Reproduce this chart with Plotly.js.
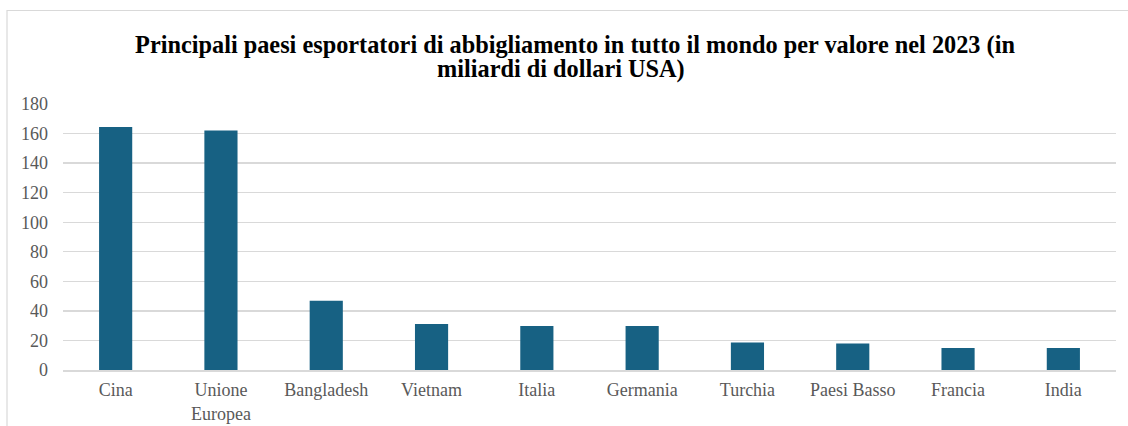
<!DOCTYPE html>
<html>
<head>
<meta charset="utf-8">
<script src="https://cdn.plot.ly/plotly-3.0.1.min.js"></script>
<style>
html,body{margin:0;padding:0;background:#fff;}
#chart{width:1128px;height:426px;}
</style>
</head>
<body>
<div id="chart"></div>
<script>
const categories = ["Cina", "Unione<br>Europea", "Bangladesh", "Vietnam", "Italia", "Germania", "Turchia", "Paesi Basso", "Francia", "India"];
const values = [164.5, 162, 46.8, 31.1, 29.8, 29.7, 18.6, 18.0, 14.9, 14.9];
const yTicks = [0, 20, 40, 60, 80, 100, 120, 140, 160, 180];
const titleLine1 = "Principali paesi esportatori di abbigliamento in tutto il mondo per valore nel 2023 (in";
const titleLine2 = "miliardi di dollari USA)";

const trace = {
  type: "bar",
  x: categories,
  y: values,
  marker: {color: "#176183", line: {width: 0}},
  hoverinfo: "x+y"
};

const titleFont = {family: "Liberation Serif, Times New Roman, serif", size: 24.3, color: "#000"};

const layout = {
  width: 1128,
  height: 426,
  margin: {l: 63, r: 12, t: 104, b: 56},
  paper_bgcolor: "#fff",
  plot_bgcolor: "#fff",
  bargap: 0.685,
  showlegend: false,
  font: {family: "Liberation Serif, Times New Roman, serif", color: "#595959", size: 18},
  title: {
    text: "<b>" + titleLine1 + "</b>",
    font: titleFont,
    x: (575 - 63) / 1053, xref: "paper", xanchor: "center",
    y: 1 - 44 / 426, yanchor: "middle"
  },
  annotations: [{
    text: "<b>" + titleLine2 + "</b>",
    font: titleFont,
    xref: "paper", yref: "paper",
    x: (561 - 63) / 1053, xanchor: "center",
    y: (426 - 56 - 69) / 266, yanchor: "middle",
    showarrow: false
  }],
  xaxis: {
    type: "category",
    showgrid: false,
    showline: true,
    linecolor: "#d9d9d9",
    linewidth: 1.5,
    ticks: "",
    ticklabelstandoff: 3,
    tickfont: {size: 18, color: "#595959"},
    fixedrange: true
  },
  yaxis: {
    range: [0, 180],
    tickvals: yTicks,
    ticktext: yTicks.map(String),
    showgrid: true,
    gridcolor: "#d9d9d9",
    gridwidth: 1.3,
    zeroline: false,
    showline: false,
    ticks: "",
    ticklabelstandoff: 14,
    tickfont: {size: 18, color: "#595959"},
    fixedrange: true
  },
  shapes: [{
    type: "rect", xref: "paper", yref: "paper",
    x0: -56/1053, x1: 1.05, y0: -0.5, y1: (426-56-10.5)/(426-104-56),
    line: {color: "#d9d9d9", width: 1.2}, fillcolor: "rgba(0,0,0,0)", layer: "below"
  }]
};

Plotly.newPlot("chart", [trace], layout, {displayModeBar: false, staticPlot: true});
</script>
</body>
</html>
